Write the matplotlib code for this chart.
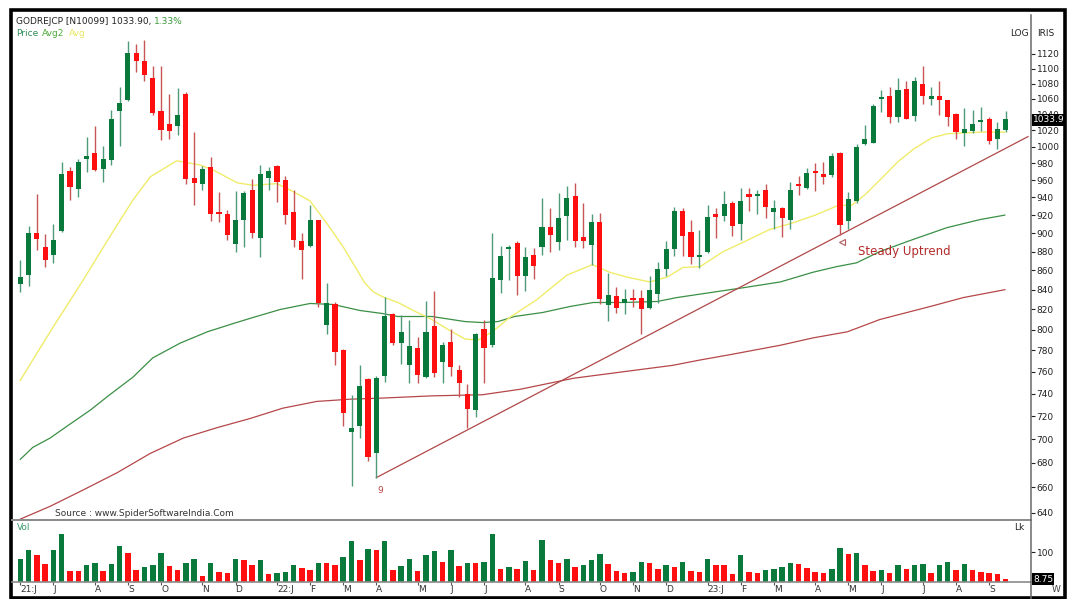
import numpy as np
import pandas as pd
import matplotlib
matplotlib.use("Agg")
import matplotlib.pyplot as plt
from matplotlib.lines import Line2D
from matplotlib.patches import Rectangle
from matplotlib.transforms import offset_copy, blended_transform_factory
from matplotlib.ticker import NullLocator

plt.rcParams['font.family'] = ['DejaVu Sans']

# ---------------- data (weekly candles, GODREJCP) ----------------
start_date = "2021-05-28"
opens = [846, 855, 900, 885, 876, 902, 971, 950, 985, 992,
         973, 984, 1045, 1059, 1121, 1110, 1088, 1044, 1028, 1026,
         1067, 962, 956, 975, 923, 921, 888, 914, 949, 895,
         963, 977, 960, 923, 891, 886, 914, 805, 825, 780,
         706, 711, 753, 688, 756, 815, 787, 766, 782, 755,
         804, 769, 788, 762, 740, 725, 801, 785, 850, 883,
         889, 854, 876, 885, 907, 890, 919, 942, 896, 887,
         912, 824, 834, 826, 831, 832, 821, 836, 861, 883,
         925, 901, 874, 879, 921, 919, 934, 910, 944, 942,
         949, 923, 928, 915, 956, 951, 971, 967, 966, 992,
         913, 936, 1003, 1005, 1060, 1064, 1037, 1073, 1038, 1080,
         1060, 1064, 1058, 1041, 1017, 1019, 1031, 1035, 1010, 1021]
highs = [871, 908, 944, 899, 910, 982, 976, 985, 1012, 1026,
         1001, 1046, 1076, 1138, 1134, 1139, 1104, 1104, 1067, 1074,
         1069, 1018, 977, 987, 946, 926, 948, 948, 961, 978,
         975, 978, 965, 949, 900, 931, 915, 847, 827, 781,
         739, 766, 754, 756, 833, 816, 814, 810, 793, 829,
         839, 788, 801, 766, 749, 797, 810, 900, 886, 887,
         891, 885, 884, 939, 928, 945, 953, 957, 934, 921,
         922, 857, 843, 841, 841, 840, 854, 869, 891, 929,
         928, 914, 903, 931, 928, 947, 936, 951, 951, 949,
         956, 937, 929, 958, 965, 974, 980, 981, 992, 993,
         946, 1003, 1027, 1053, 1072, 1076, 1087, 1083, 1089, 1104,
         1076, 1084, 1059, 1042, 1048, 1046, 1049, 1037, 1030, 1044]
lows = [838, 844, 882, 864, 868, 901, 937, 941, 970, 971,
        958, 978, 1001, 1057, 1096, 1084, 1039, 1008, 1009, 1015,
        955, 931, 949, 913, 912, 892, 879, 885, 895, 874,
        949, 935, 910, 885, 851, 885, 822, 796, 766, 711,
        661, 701, 682, 668, 751, 785, 767, 750, 750, 754,
        755, 750, 756, 737, 710, 719, 750, 783, 837, 850,
        835, 839, 851, 876, 879, 882, 893, 885, 884, 866,
        825, 809, 816, 815, 822, 796, 820, 826, 854, 875,
        875, 867, 863, 878, 895, 913, 897, 893, 925, 921,
        917, 904, 896, 904, 943, 950, 947, 956, 964, 898,
        905, 934, 1002, 1004, 1043, 1029, 1030, 1034, 1032, 1054,
        1052, 1040, 1026, 1010, 1001, 1017, 1019, 1003, 997, 1018]
closes = [853, 900, 894, 871, 892, 967, 952, 982, 989, 972,
          985, 1034, 1055, 1121, 1110, 1092, 1042, 1021, 1019, 1040,
          961, 957, 973, 921, 921, 898, 915, 945, 900, 967,
          971, 958, 920, 893, 882, 914, 826, 826, 779, 723,
          710, 747, 685, 754, 813, 787, 798, 784, 757, 798,
          759, 785, 764, 750, 726, 796, 782, 852, 875, 884,
          854, 874, 865, 907, 898, 917, 939, 891, 891, 912,
          831, 835, 821, 831, 830, 820, 840, 861, 883, 925,
          897, 874, 875, 918, 918, 933, 908, 936, 941, 944,
          929, 928, 917, 949, 953, 969, 968, 964, 989, 909,
          938, 1000, 1010, 1051, 1063, 1037, 1072, 1035, 1083, 1064,
          1064, 1058, 1037, 1018, 1022, 1028, 1033, 1007, 1022, 1033.9]
volume_lk = [77, 110, 91, 62, 110, 162, 37, 36, 59, 64,
             37, 62, 122, 99, 40, 51, 56, 99, 53, 40,
             66, 79, 19, 66, 34, 32, 79, 75, 57, 75,
             27, 30, 35, 56, 48, 40, 66, 64, 57, 85,
             138, 73, 111, 110, 138, 42, 53, 79, 37, 91,
             104, 69, 109, 53, 66, 64, 67, 162, 45, 50,
             43, 71, 40, 141, 75, 64, 79, 50, 59, 75,
             96, 61, 37, 30, 34, 69, 64, 45, 56, 51,
             69, 37, 34, 79, 59, 56, 27, 93, 34, 32,
             40, 45, 51, 64, 62, 49, 34, 32, 43, 115,
             96, 99, 56, 37, 40, 32, 56, 43, 59, 61,
             32, 56, 69, 40, 61, 40, 34, 30, 26, 8.75]

# moving averages (week index, value)
avg_idx = [0, 1.5, 4, 7.6, 10.8, 13.6, 15.7, 18.9, 21.7, 23.3, 26.2, 28.1, 31, 32.9, 35,
           37, 39, 40.7, 41.6, 42.6, 43.7, 45.6, 47.7, 49.7, 51.7, 53.7, 55.3, 57, 59.1,
           62.4, 66, 69.1, 71.2, 73.3, 76, 78.1, 80, 82.1, 84.9, 87.3, 90.5, 93.2, 96,
           98.8, 100.4, 102, 104.1, 106, 108, 110.1, 112, 114.1, 116.1, 118.9]
avg_val = [752, 771, 803, 850, 896, 937, 964, 983, 978, 972, 957, 954, 956, 947, 936,
           911, 885, 860, 847, 838, 833, 827, 818, 810, 800, 791, 790, 798, 812,
           830, 855, 866, 858, 853, 848, 853, 863, 864, 880, 890, 904, 911, 920,
           931, 931, 943, 963, 982, 998, 1011, 1016, 1017, 1018, 1018]
avg2_idx = [0, 1.5, 3.6, 5.6, 8.4, 10.8, 13.6, 16, 19.3, 22.6, 25.7, 28.1, 31.4, 35,
            37.8, 41, 43.7, 45.6, 49.7, 53.7, 55.8, 57.7, 59.7, 63.1, 66.4, 69.2, 72.8,
            76.9, 79.3, 83.3, 87.3, 91.8, 95.7, 98.6, 101, 103.8, 107.8, 111.9, 115.9, 118.9]
avg2_val = [683, 693, 701, 711, 725, 739, 755, 773, 787, 798, 806, 812, 820, 826,
            825, 819, 816, 813, 813, 808, 807, 808, 813, 817, 823, 827, 827,
            828, 832, 837, 842, 848, 858, 864, 868, 880, 893, 906, 915, 920]
avg3_idx = [0, 3.6, 7.6, 11.7, 15.7, 19.7, 23.8, 27.8, 31.7, 35.8, 39.8, 43.7, 49.7,
            55.8, 60.4, 66.8, 72.8, 78.8, 82.1, 85.7, 91.8, 95.7, 99.9, 103.8, 109.9,
            113.9, 118.9]
avg3_val = [635, 645, 658, 672, 688, 701, 710, 718, 727, 733, 735, 736, 738,
            739, 744, 754, 760, 766, 771, 776, 785, 792, 798, 810, 823,
            832, 840]

trend_anchor = [43, 99]          # swing lows joined by the trendline
month_labels = ["21:J", "J", "A", "S", "O", "N", "D", "22:J", "F", "M", "A", "M", "J",
                "J", "A", "S", "O", "N", "D", "23:J", "F", "M", "A", "M", "J", "J", "A", "S"]
price_ticks = list(range(640, 1121, 20))

# ---------------- figure ----------------
W, H = 1071, 599
fig = plt.figure(figsize=(W / 100, H / 100), dpi=100)
fig.patch.set_facecolor("white")

def fx(px):
    return px / W

def fy(py):
    return 1 - py / H

L, R = 12, 1031
ax = fig.add_axes([fx(L), fy(519), fx(R) - fx(L), fy(11) - fy(519)])
axv = fig.add_axes([fx(L), fy(582), fx(R) - fx(L), fy(520) - fy(582)])

n = len(opens)
x = np.arange(n)
o = np.array(opens, float); h = np.array(highs, float)
lo = np.array(lows, float); c = np.array(closes, float)
v = np.array(volume_lk, float)

GREEN = "#0a7a3c"
RED = "#ff0f0f"
up = c >= o
body_col = np.where(up, GREEN, RED)
wick_col = np.where(up, "#4f9a7a", "#c85555")

ax.set_yscale("log")
ax.set_ylim(635.1, 1180)
ax.set_xlim(-1.0, 122.06)

ax.vlines(x, lo, h, colors=wick_col, linewidth=1.0, zorder=3)
bot = np.minimum(o, c)
ht = np.maximum(np.abs(c - o), bot * 0.0022)
ax.bar(x, ht, bottom=bot, width=0.62, color=body_col, linewidth=0, zorder=4)

ax.plot(avg3_idx, avg3_val, color="#b5474a", lw=0.9, zorder=2)
ax.plot(avg2_idx, avg2_val, color="#3b8f45", lw=0.9, zorder=2)
ax.plot(avg_idx, avg_val, color="#f0ec6a", lw=1.0, zorder=2)

# trendline through swing lows, extended to right edge
i0, i1 = trend_anchor
slope = (np.log(lo[i1]) - np.log(lo[i0])) / (i1 - i0)
xe = np.array([i0, 121.7])
ax.plot(xe, np.exp(np.log(lo[i0]) + slope * (xe - i0)), color="#b04848", lw=0.9, zorder=2)

ax.annotate("9", (i0, lo[i0]), xytext=(3, -9), textcoords="offset points",
            color="#c04545", fontsize=6.5, ha="center", va="center")
tri_tr = offset_copy(ax.transData, fig=fig, x=2, y=-7, units="dots")
ax.plot([i1], [lo[i1]], marker="<", ms=4.5, mfc="none", mec="#b05a5a", mew=0.8,
        transform=tri_tr, zorder=5)
ax.text(fx(858), fy(251), "Steady Uptrend", transform=fig.transFigure, color="#b32b2b",
        fontsize=8.5, va="center", ha="left")

# right price axis
ax.yaxis.tick_right()
ax.set_yticks(price_ticks)
ax.set_yticklabels([str(t) for t in price_ticks])
ax.yaxis.set_minor_locator(NullLocator())
ax.tick_params(axis="y", which="major", direction="out", length=3, width=0.8, pad=1,
               labelsize=6.5, colors="#222222")
ax.set_xticks([])
for s in ax.spines.values():
    s.set_visible(False)

# volume
vcol = [GREEN] + [GREEN if v[i] > v[i - 1] else RED for i in range(1, n)]
axv.bar(x, v, width=0.66, color=vcol, linewidth=0)
axv.set_xlim(-1.0, 122.06)
axv.set_ylim(0, 210)
axv.yaxis.tick_right()
axv.set_yticks([100])
axv.set_yticklabels(["100"])
axv.yaxis.set_minor_locator(NullLocator())
axv.tick_params(axis="y", direction="out", length=3, width=0.8, pad=1, labelsize=6.5,
                colors="#222222")
for s in axv.spines.values():
    s.set_visible(False)

# month labels
dates = pd.date_range(start_date, periods=n, freq="7D")
mpos = [i for i in range(1, n) if dates[i].month != dates[i - 1].month]
axv.set_xticks([p - 1.0 for p in mpos])
axv.set_xticklabels([])
axv.tick_params(axis="x", direction="out", length=2, width=0.8, colors="#555555")
btr = blended_transform_factory(axv.transData, axv.transAxes)
for p, lab in zip(mpos, month_labels):
    axv.text(p - 1.0, -0.12, lab, transform=btr, ha="left", va="center", fontsize=6.5,
             color="#333333")

# panel lines / frame
def hline(y, x0, x1, color, lw):
    fig.add_artist(Line2D([fx(x0), fx(x1)], [fy(y), fy(y)], color=color, lw=lw))

def vline(xp, y0, y1, color, lw):
    fig.add_artist(Line2D([fx(xp), fx(xp)], [fy(y0), fy(y1)], color=color, lw=lw))

hline(519.5, 12, 1031, "#8a8a8a", 1.4)
hline(582, 12, 1031, "#8a8a8a", 1.2)
vline(1031, 15, 599, "#6a6a6a", 1.1)
fig.add_artist(Rectangle((fx(11), fy(598)), fx(1065) - fx(11), fy(9.5) - fy(598),
                         fill=False, edgecolor="black", lw=2.6, transform=fig.transFigure))

# texts
fs = 6.5
fig.text(fx(16), fy(21), "GODREJCP [N10099] 1033.90,", fontsize=fs, color="#222222", va="center")
fig.text(fx(154), fy(21), "1.33%", fontsize=fs, color="#3a9a3a", va="center")
fig.text(fx(16), fy(33), "Price", fontsize=fs, color="#2e8b57", va="center")
fig.text(fx(42), fy(33), "Avg2", fontsize=fs, color="#4fa83a", va="center")
fig.text(fx(69), fy(33), "Avg", fontsize=fs, color="#e8e660", va="center")
fig.text(fx(1010), fy(33), "LOG", fontsize=fs, color="#222222", va="center")
fig.text(fx(1037), fy(33), "IRIS", fontsize=fs, color="#222222", va="center")
fig.text(fx(55), fy(513), "Source : www.SpiderSoftwareIndia.Com", fontsize=fs,
         color="#333333", va="center")
fig.text(fx(17), fy(527), "Vol", fontsize=fs, color="#3a9a6a", va="center")
fig.text(fx(1014), fy(527), "Lk", fontsize=fs, color="#222222", va="center")
fig.text(fx(1052), fy(590), "W", fontsize=fs, color="#444444", va="center")
fig.text(fx(1033), fy(120), "1033.9", fontsize=fs, color="white", va="center",
         bbox=dict(boxstyle="square,pad=0.15", fc="black", ec="none"))
fig.text(fx(1033), fy(579), "8.75", fontsize=fs, color="white", va="center",
         bbox=dict(boxstyle="square,pad=0.15", fc="black", ec="none"))

fig.savefig("out.png", dpi=100, facecolor="white")
